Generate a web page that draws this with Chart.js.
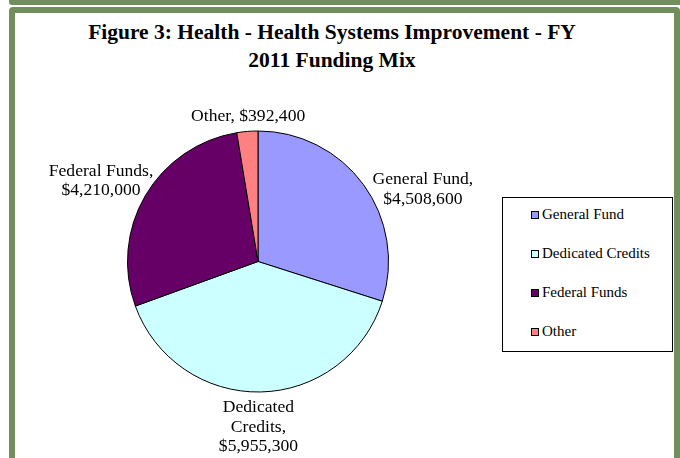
<!DOCTYPE html>
<html lang="en">
<head>
    <meta charset="UTF-8">
    <title>Figure 3: Health - Health Systems Improvement - FY 2011 Funding Mix</title>
    <style>
        * { box-sizing: border-box; margin: 0; padding: 0; }
        body {
            width: 680px;
            height: 458px;
            background: #fff;
            position: relative;
            overflow: hidden;
            font-family: 'Liberation Serif', 'Times New Roman', serif;
        }
        /* green frame round the chart */
        .top-strip {
            position: absolute; left: 9px; top: 0;
            width: 671px; height: 5px;
            background: #718e5c;
            border-radius: 0 0 0 3px;
        }
        .frame {
            position: absolute; left: 9px; top: 7px;
            width: 671px; height: 480px;
            border: 6px solid #718e5c;
            border-radius: 4px;
        }
        .chart-title {
            position: absolute; left: 32px; top: 18px;
            width: 600px;
            text-align: center;
            font-size: 21.5px; font-weight: bold;
            line-height: 28px;
            color: #000;
        }
        .chart-box { position: absolute; left: 15px; top: 13px; }
        /* legend box on the right */
        .legend {
            position: absolute; left: 502px; top: 197px;
            width: 171px; height: 155px;
            border: 1px solid #000;
            background: #fff;
        }
        .legend-item {
            display: flex; align-items: center;
            height: 39px; padding-left: 28px;
            font-size: 15px; color: #000;
        }
        .legend-item:first-child { margin-top: -3px; }
        .swatch { width: 8px; height: 8px; border: 1px solid #000; margin-right: 3px; }
    </style>
    <script src="https://cdn.jsdelivr.net/npm/chart.js"></script>
</head>
<body>

<div class="top-strip"></div>
<div class="frame"></div>

<div class="chart-title" id="chartTitle"></div>

<div class="chart-box">
    <canvas id="fundingChart" width="634" height="445"></canvas>
</div>

<div class="legend" id="legend"></div>

<script>
    // Funding sources and FY 2011 amounts
    const categories = ['General Fund', 'Dedicated Credits', 'Federal Funds', 'Other'];
    const amounts = [4508600, 5955300, 4210000, 392400];
    const sliceColors = ['#9999FF', '#CCFFFF', '#660066', '#FF8080'];
    const titleLines = ['Figure 3: Health - Health Systems Improvement - FY', '2011 Funding Mix'];

    const serif = "'Liberation Serif', 'Times New Roman', serif";

    function money(v) {
        return '$' + v.toLocaleString('en-US');
    }

    // word wrap for the outside labels
    function wrap(ctx, text, maxWidth) {
        const words = text.split(' ');
        const lines = [];
        let line = '';
        words.forEach(function (w) {
            const test = line ? line + ' ' + w : w;
            if (line && ctx.measureText(test).width > maxWidth) {
                lines.push(line);
                line = w;
            } else {
                line = test;
            }
        });
        if (line) lines.push(line);
        return lines;
    }

    // Labels "Name, $value" placed outside each slice
    const outsideLabels = {
        id: 'outsideLabels',
        afterDatasetsDraw(chart, args, opts) {
            const ctx = chart.ctx;
            const meta = chart.getDatasetMeta(0);
            ctx.save();
            ctx.font = opts.size + 'px ' + serif;
            ctx.fillStyle = '#000';
            ctx.textAlign = 'center';
            ctx.textBaseline = 'middle';
            meta.data.forEach(function (arc, i) {
                const p = arc.getProps(['x', 'y', 'startAngle', 'endAngle', 'outerRadius'], true);
                const mid = (p.startAngle + p.endAngle) / 2;
                const cx = Math.cos(mid), cy = Math.sin(mid);
                const text = chart.data.labels[i] + ', ' + money(chart.data.datasets[0].data[i]);
                const lines = wrap(ctx, text, opts.maxWidth);
                const w = Math.max.apply(null, lines.map(function (l) { return ctx.measureText(l).width; }));
                const h = lines.length * opts.lineHeight;
                const nudge = opts.nudge[i] || [0, 0];
                const x = p.x + (p.outerRadius + opts.gap) * cx + cx * w / 2 + nudge[0];
                const y = p.y + (p.outerRadius + opts.gap) * cy + cy * h / 2 + nudge[1];
                lines.forEach(function (l, k) {
                    ctx.fillText(l, x, y - h / 2 + opts.lineHeight * (k + 0.5));
                });
            });
            ctx.restore();
        }
    };

    document.getElementById('chartTitle').innerHTML = titleLines.join('<br>');

    new Chart(document.getElementById('fundingChart'), {
        type: 'pie',
        data: {
            labels: categories,
            datasets: [{
                data: amounts,
                backgroundColor: sliceColors,
                borderColor: '#000',
                borderWidth: 1
            }]
        },
        options: {
            responsive: false,
            animation: false,
            layout: { padding: { left: 112, right: 260, top: 117, bottom: 65 } },
            plugins: {
                legend: { display: false },
                tooltip: { enabled: false },
                title: { display: false },
                outsideLabels: {
                    size: 17.6,
                    lineHeight: 19.5,
                    maxWidth: 122,
                    gap: 6,
                    nudge: [[14, 20], [-3, 0], [6, -2], [6, 1]]
                }
            }
        },
        plugins: [outsideLabels]
    });

    // legend built from the same arrays
    const legendEl = document.getElementById('legend');
    categories.forEach(function (name, i) {
        const row = document.createElement('div');
        row.className = 'legend-item';
        const sw = document.createElement('span');
        sw.className = 'swatch';
        sw.style.background = sliceColors[i];
        row.appendChild(sw);
        row.appendChild(document.createTextNode(name));
        legendEl.appendChild(row);
    });
</script>

</body>
</html>
